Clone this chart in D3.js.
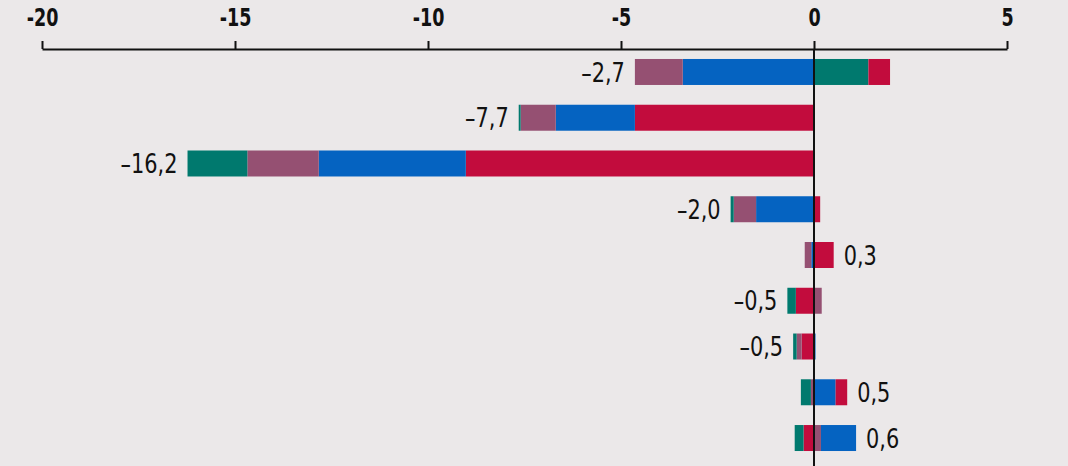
<!DOCTYPE html>
<html lang="de">
<head>
<meta charset="UTF-8">
<title>Beiträge</title>
<script src="https://d3js.org/d3.v7.min.js"></script>
<style>
  html, body { margin: 0; padding: 0; background: #ebe8e9; }
  svg { display: block; }
  text { font-family: "Liberation Sans Narrow", "DejaVu Sans Condensed", sans-serif; fill: #111; }
</style>
</head>
<body>
<div id="chart"></div>
<script>
// rows top to bottom
var rows = ["r1", "r2", "r3", "r4", "r5", "r6", "r7", "r8", "r9"];
// components of each row
var teal  = [ 1.41, -0.05, -1.55, -0.08,  0.00, -0.22, -0.09, -0.26, -0.23];
var mauve = [-1.24, -0.91, -1.85, -0.58, -0.17,  0.20, -0.13, -0.08,  0.18];
var blue  = [-3.40, -2.05, -3.81, -1.50, -0.07,  0.00,  0.04,  0.56,  0.91];
var red   = [ 0.56, -4.64, -9.02,  0.16,  0.51, -0.47, -0.32,  0.30, -0.27];
// printed totals
var totals = [-2.7, -7.7, -16.2, -2.0, 0.3, -0.5, -0.5, 0.5, 0.6];
var tickValues = [-20, -15, -10, -5, 0, 5];

var keys = ["teal", "mauve", "blue", "red"];
var colors = {teal: "#00796e", mauve: "#955072", blue: "#0563c1", red: "#c20c3d"};

var table = rows.map(function(r, i) {
  return {row: r, teal: teal[i], mauve: mauve[i], blue: blue[i], red: red[i], total: totals[i]};
});

var width = 1068, height = 466;
var svg = d3.select("#chart").append("svg")
  .attr("width", width)
  .attr("height", height);

var x = d3.scaleLinear().domain([-20, 5]).range([42, 1007]);
var y = d3.scaleBand().domain(rows).range([49.1, 460.9])
  .paddingInner(0.432).paddingOuter(0.216);

// positive parts go right from 0 in this order, negative parts go left in reverse order
var posStack = d3.stack().keys(keys)
  .value(function(d, k) { return Math.max(0, d[k]); })(table);
var negStack = d3.stack().keys(keys.slice().reverse())
  .value(function(d, k) { return Math.min(0, d[k]); })
  .offset(d3.stackOffsetDiverging)(table);

var layers = svg.append("g");
[posStack, negStack].forEach(function(stack) {
  stack.forEach(function(layer) {
    layers.append("g")
      .attr("fill", colors[layer.key])
      .selectAll("rect")
      .data(layer.filter(function(d) { return d[0] !== d[1]; }))
      .enter().append("rect")
      .attr("x", function(d) { return x(Math.min(d[0], d[1])); })
      .attr("width", function(d) { return Math.abs(x(d[1]) - x(d[0])); })
      .attr("y", function(d) { return y(d.data.row); })
      .attr("height", y.bandwidth());
  });
});

// axis on top
var axis = svg.append("g")
  .attr("transform", "translate(0,49)")
  .call(d3.axisTop(x).tickValues(tickValues).tickSize(8).tickSizeOuter(0)
    .tickFormat(function(d) { return d; }));
axis.select(".domain").attr("stroke", "#111").attr("stroke-width", 2);
axis.selectAll(".tick line").attr("stroke", "#111").attr("stroke-width", 2);
axis.selectAll(".tick text")
  .attr("x", 0)
  .attr("y", -23)
  .attr("fill", "#111")
  .style("font-size", "25px")
  .style("font-weight", "bold")
  .attr("transform", "scale(0.78,1)");

// zero line
svg.append("line")
  .attr("x1", x(0)).attr("x2", x(0))
  .attr("y1", 49).attr("y2", height)
  .attr("stroke", "#111").attr("stroke-width", 2);

// totals, squeezed a little to look condensed
var fmt = function(v) { return (v < 0 ? "\u2013" : "") + Math.abs(v).toFixed(1).replace(".", ","); };
svg.append("g").selectAll("text")
  .data(table)
  .enter().append("text")
  .attr("transform", function(d) {
    var lo = 0, hi = 0;
    keys.forEach(function(k) { if (d[k] < 0) lo += d[k]; else hi += d[k]; });
    var tx = d.total < 0 ? x(lo) - 10 : x(hi) + 10;
    return "translate(" + tx + "," + (y(d.row) + y.bandwidth() / 2) + ") scale(0.86,1)";
  })
  .attr("dy", "0.36em")
  .attr("text-anchor", function(d) { return d.total < 0 ? "end" : "start"; })
  .style("font-size", "27px")
  .text(function(d) { return fmt(d.total); });
</script>
</body>
</html>
